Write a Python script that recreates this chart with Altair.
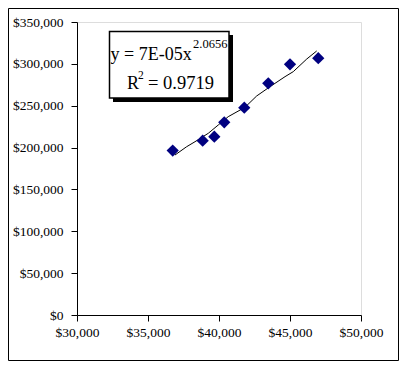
import altair as alt
import pandas as pd

income = [36740, 38850, 39670, 40370, 41780, 43470, 45000, 46990]
price = [196500, 208200, 213000, 230200, 247600, 276800, 299500, 306700]

# Power trendline as drawn
trend_x = [36900, 37720, 38310, 39250, 39950, 40650, 41830, 42650, 43590, 44650, 45230, 46180, 46880]
trend_y = [191100, 201000, 207000, 217100, 227000, 236900, 248100, 261600, 272700, 284700, 290700, 305800, 315400]

x_ticks = [30000, 35000, 40000, 45000, 50000]
y_ticks = [0, 50000, 100000, 150000, 200000, 250000, 300000, 350000]

pts = pd.DataFrame({"x": income, "y": price})
tr = pd.DataFrame({"x": trend_x, "y": trend_y, "o": list(range(len(trend_x)))})
one = pd.DataFrame({"k": [0]})

W, H = 284, 293
FONT = "Liberation Serif"

xs = alt.Scale(domain=[30000, 50000], nice=False, zero=False)
ys = alt.Scale(domain=[0, 350000], nice=False)

xax = alt.Axis(values=x_ticks, format="$,.0f", title=None, grid=False, labelFlush=False,
               domainColor="black", tickColor="black", tickSize=6,
               labelFont=FONT, labelFontSize=13.5, labelColor="black", labelPadding=4)
yax = alt.Axis(values=y_ticks, format="$,.0f", title=None, grid=False, labelFlush=False,
               domainColor="black", tickColor="black", tickSize=6,
               labelFont=FONT, labelFontSize=13.5, labelColor="black", labelPadding=8)

scatter = alt.Chart(pts).mark_point(shape="diamond", filled=True, color="#000080", size=150, opacity=1).encode(
    x=alt.X("x:Q", scale=xs, axis=xax),
    y=alt.Y("y:Q", scale=ys, axis=yax),
)

trend = alt.Chart(tr).mark_line(color="black", strokeWidth=1).encode(
    x=alt.X("x:Q", scale=xs),
    y=alt.Y("y:Q", scale=ys),
    order="o:Q",
)

deco = alt.Chart(one)

# Decorations: outer frame and equation box
frame = deco.mark_rect(fill=None, stroke="black", strokeWidth=1).encode(
    x=alt.value(-68.5), x2=alt.value(321.5), y=alt.value(-13.5), y2=alt.value(338.5)
)
shadow = deco.mark_rect(fill="black").encode(
    x=alt.value(36), x2=alt.value(156), y=alt.value(13), y2=alt.value(80)
)
box = deco.mark_rect(fill="white", stroke="black", strokeWidth=1.5).encode(
    x=alt.value(32.5), x2=alt.value(152), y=alt.value(9.5), y2=alt.value(76)
)

def txt(s, x, y, size):
    return deco.mark_text(text=s, font=FONT, fontSize=size, align="left",
                          baseline="alphabetic", color="black").encode(
        x=alt.value(x), y=alt.value(y))

texts = [
    txt("y = 7E-05x", 33.5, 37.5, 18),
    txt("2.0656", 116, 25.5, 12.5),
    txt("R", 50, 67, 18),
    txt("2", 61, 57, 11.5),
    txt("= 0.9719", 71, 67, 18.5),
]

chart = alt.layer(frame, trend, scatter, shadow, box, *texts).properties(
    width=W, height=H,
    autosize=alt.AutoSizeParams(type="none"),
    padding={"left": 69, "top": 14, "right": 38, "bottom": 46},
).configure_view(stroke=None).configure(background="white")

chart.save("out.html", embed_options={"renderer": "svg", "actions": False})
